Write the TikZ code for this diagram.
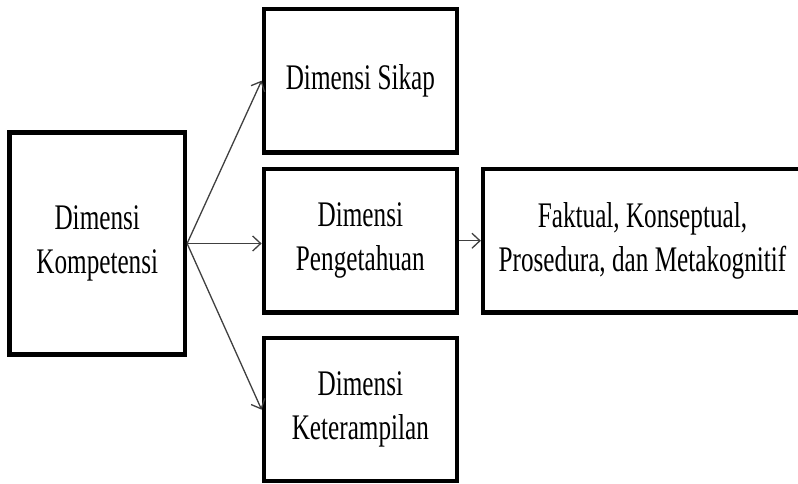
\documentclass[tikz,border=0pt]{standalone}
\usepackage{fontspec}
\setmainfont{Liberation Serif}
\usetikzlibrary{arrows.meta}
\newcommand{\squeezed}[1]{\scalebox{0.7}[1]{#1}}
\begin{document}
\begin{tikzpicture}[x=1pt,y=-1pt,
  box/.style={draw=black, line width=4.2pt, rectangle, inner sep=0pt,
    align=center, font=\fontsize{36}{44}\selectfont},
  link/.style={draw=black!75, line width=1.3pt,
    -{Straight Barb[length=8pt,width=15pt,line width=1.3pt]}}]
  \useasboundingbox (0,0) rectangle (798,483);
  \fill[white] (0,0) rectangle (798,483);

  % main competence box
  \node[box, minimum width=175.5pt, minimum height=222pt] (komp) at (97.25,243.5)
    {\squeezed{Dimensi}\\\squeezed{Kompetensi}};

  % the three dimensions
  \node[box, minimum width=193.3pt, minimum height=143.7pt] (sikap) at (360.35,80.65)
    {\squeezed{Dimensi Sikap}};
  \node[box, minimum width=193.3pt, minimum height=143.5pt] (tahu) at (360.35,240.75)
    {\squeezed{Dimensi}\\\squeezed{Pengetahuan}};
  \node[box, minimum width=193.3pt, minimum height=142.7pt] (terampil) at (360.35,409.65)
    {\squeezed{Dimensi}\\\squeezed{Keterampilan}};

  % kinds of knowledge
  \node[box, minimum width=319pt, minimum height=143.5pt] (jenis) at (642.5,240.75)
    {\squeezed{Faktual, Konseptual,}\\\squeezed{Prosedura, dan Metakognitif}};

  % connectors
  \draw[link] (komp.east) -- (sikap.west);
  \draw[link] (komp.east) -- (komp.east -| tahu.west);
  \draw[link] (komp.east) -- (terampil.west);
  \draw[link] (tahu.east) -- (jenis.west);
\end{tikzpicture}
\end{document}
